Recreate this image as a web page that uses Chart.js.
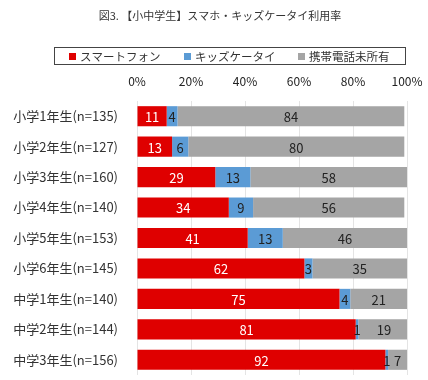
<!DOCTYPE html>
<html><head><meta charset="utf-8">
<script src="https://cdn.jsdelivr.net/npm/chart.js@4/dist/chart.umd.min.js"></script>
<style>html,body{margin:0;padding:0;background:#fff;}#wrap{width:428px;height:380px;}</style>
</head><body><div id="wrap"><canvas id="c" width="428" height="380"></canvas></div>
<script>
const titleText = '図3. 【小中学生】スマホ・キッズケータイ利用率';
const categories = ['小学1年生(n=135)','小学2年生(n=127)','小学3年生(n=160)','小学4年生(n=140)','小学5年生(n=153)','小学6年生(n=145)','中学1年生(n=140)','中学2年生(n=144)','中学3年生(n=156)'];
const seriesNames = ['スマートフォン','キッズケータイ','携帯電話未所有'];
const smartphone = [11,13,29,34,41,62,75,81,92];
const kidsPhone = [4,6,13,9,13,3,4,1,1];
const noPhone = [84,80,58,56,46,35,21,19,7];
const tickValues = [0,20,40,60,80,100];
const colors = ['#DF0000','#5B9BD5','#A5A5A5'];
const labelColors = ['#ffffff','#222222','#222222'];
const FONT = '"Noto Sans CJK JP", "Noto Sans", sans-serif';

const drawPlugin = {
  id: 'custom',
  afterDatasetsDraw(chart) {
    const ctx = chart.ctx;
    ctx.save();
    ctx.font = '13px ' + FONT;
    ctx.textAlign = 'center';
    ctx.textBaseline = 'middle';
    chart.data.datasets.forEach((ds, di) => {
      const meta = chart.getDatasetMeta(di);
      meta.data.forEach((el, i) => {
        const v = ds.data[i];
        const cx = (el.x + el.base) / 2;
        ctx.fillStyle = labelColors[di];
        ctx.fillText(String(v), cx, el.y + 1);
      });
    });
    ctx.restore();
  },
  afterDraw(chart) {
    const ctx = chart.ctx;
    ctx.save();
    ctx.font = '11px ' + FONT;
    ctx.fillStyle = '#333';
    ctx.textAlign = 'center';
    ctx.textBaseline = 'middle';
    ctx.fillText(titleText, 220, 16);
    ctx.strokeStyle = '#444';
    ctx.lineWidth = 1;
    ctx.strokeRect(54.5, 47.5, 351, 17);
    ctx.font = '11.5px ' + FONT;
    ctx.textAlign = 'left';
    const xs = [69, 184, 298];
    chart.data.datasets.forEach((ds, di) => {
      ctx.fillStyle = colors[di];
      ctx.fillRect(xs[di], 53, 7, 7);
      ctx.fillStyle = '#333';
      ctx.fillText(ds.label, xs[di] + 11, 56.5);
    });
    ctx.restore();
  }
};

function zeroPad(scale) {
  scale.paddingLeft = 0; scale.paddingRight = 0;
  scale.paddingTop = 0; scale.paddingBottom = 0;
}

new Chart(document.getElementById('c'), {
  type: 'bar',
  data: {
    labels: categories,
    datasets: [
      {label: seriesNames[0], data: smartphone, backgroundColor: colors[0]},
      {label: seriesNames[1], data: kidsPhone, backgroundColor: colors[1]},
      {label: seriesNames[2], data: noPhone, backgroundColor: colors[2]}
    ]
  },
  options: {
    indexAxis: 'y',
    responsive: false,
    animation: false,
    devicePixelRatio: 1,
    layout: {padding: {top: 70, right: 21, bottom: 5, left: 0}},
    datasets: {bar: {barPercentage: 0.66, categoryPercentage: 1}},
    plugins: {legend: {display: false}, title: {display: false}, tooltip: {enabled: false}},
    scales: {
      x: {
        position: 'top', stacked: true, min: 0, max: 100,
        afterBuildTicks(scale) { scale.ticks = tickValues.map(v => ({value: v})); },
        afterFit(scale) { scale.height = 31; zeroPad(scale); },
        grid: {color: '#e4e4e4', drawTicks: false},
        border: {display: false},
        ticks: {padding: 12, color: '#222', font: {size: 12, family: FONT}, callback: v => v + '%'}
      },
      y: {
        stacked: true,
        afterFit(scale) { scale.width = 137; zeroPad(scale); },
        grid: {display: false, drawTicks: false},
        border: {display: false},
        ticks: {padding: 19, color: '#333', font: {size: 13, family: FONT}}
      }
    }
  },
  plugins: [drawPlugin]
});
</script></body></html>
